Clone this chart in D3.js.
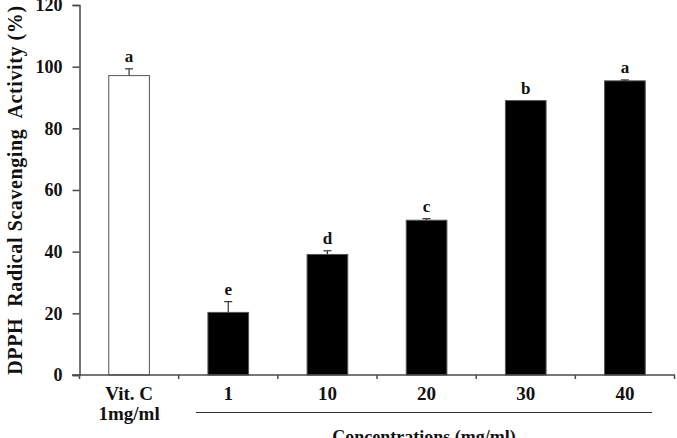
<!DOCTYPE html>
<html>
<head>
<meta charset="utf-8">
<script src="https://cdn.jsdelivr.net/npm/d3@7"></script>
<style>
  html, body { margin: 0; padding: 0; background: #fff; }
  svg { display: block; }
  text { font-family: "Liberation Serif", "DejaVu Serif", serif; font-weight: bold; fill: #111; }
</style>
</head>
<body>
<svg id="chart" width="677" height="438"></svg>
<script>
// ── data ──
const categories = ['Vit. C', '1', '10', '20', '30', '40'];
const values     = [97.1, 20.3, 39.1, 50.2, 89.0, 95.4];
const errors     = [2.2, 3.5, 1.2, 0.5, 0, 0.3];
const letters    = ['a', 'e', 'd', 'c', 'b', 'a'];
const yTicks     = [0, 20, 40, 60, 80, 100, 120];

const svg = d3.select('#chart');
const AXIS = '#4a4a4a';

const x = d3.scaleBand().domain(categories).range([79.5, 674.5]).paddingInner(0.59).paddingOuter(0.295);
const y = d3.scaleLinear().domain([0, 120]).range([375, 5]);

// bars — reference control white, extract black
svg.append('g').selectAll('rect').data(categories).join('rect')
  .attr('x', d => x(d))
  .attr('y', (d, i) => y(values[i]))
  .attr('width', x.bandwidth())
  .attr('height', (d, i) => y(0) - y(values[i]))
  .attr('fill', (d, i) => i === 0 ? '#fff' : '#000')
  .attr('stroke', '#555')
  .attr('stroke-width', 1);

// error bars (upper half only)
const eb = svg.append('g').attr('stroke', '#333').attr('stroke-width', 1.2);
categories.forEach((d, i) => {
  if (!errors[i]) return;
  const cx = x(d) + x.bandwidth() / 2;
  const top = y(values[i] + errors[i]);
  eb.append('line').attr('x1', cx).attr('x2', cx).attr('y1', y(values[i])).attr('y2', top);
  eb.append('line').attr('x1', cx - 4).attr('x2', cx + 4).attr('y1', top).attr('y2', top);
});

// significance letters
svg.append('g').selectAll('text').data(categories).join('text')
  .attr('x', d => x(d) + x.bandwidth() / 2)
  .attr('y', (d, i) => y(values[i] + errors[i]) - 7)
  .attr('text-anchor', 'middle')
  .style('font-size', '17px')
  .text((d, i) => letters[i]);

// y axis
const yAxis = svg.append('g')
  .attr('transform', 'translate(79.5,0)')
  .call(d3.axisLeft(y).tickValues(yTicks).tickSize(7).tickPadding(10));
yAxis.select('.domain').attr('stroke', AXIS).attr('stroke-width', 1.5);
yAxis.selectAll('.tick line').attr('stroke', AXIS).attr('stroke-width', 1.5);
yAxis.selectAll('.tick text')
  .style('font-size', '18px').style('fill', '#111');

// x axis — ticks at band boundaries
const step = x.step();
const bounds = categories.map(d => x(d) - (step - x.bandwidth()) / 2).concat([674.5]);
const xg = svg.append('g').attr('stroke', AXIS).attr('stroke-width', 1.5);
xg.append('line').attr('x1', 72).attr('x2', 675).attr('y1', y(0)).attr('y2', y(0));
bounds.forEach(b => {
  xg.append('line').attr('x1', b).attr('x2', b).attr('y1', y(0)).attr('y2', y(0) + 4);
});

// category labels
const lab = svg.append('g').attr('text-anchor', 'middle').style('font-size', '19px');
categories.forEach(d => {
  lab.append('text').attr('x', x(d) + x.bandwidth() / 2).attr('y', 400).text(d);
});
lab.append('text').attr('x', x('Vit. C') + x.bandwidth() / 2).attr('y', 420).text('1mg/ml');

// bracket line under concentrations
svg.append('line')
  .attr('x1', 196).attr('x2', 652).attr('y1', 412.5).attr('y2', 412.5)
  .attr('stroke', '#333').attr('stroke-width', 1.2);

svg.append('text')
  .attr('x', 424).attr('y', 443)
  .attr('text-anchor', 'middle').style('font-size', '18px')
  .text('Concentrations (mg/ml)');

// y title
svg.append('text')
  .attr('transform', 'translate(22,190) rotate(-90)')
  .attr('text-anchor', 'middle')
  .style('font-size', '20px')
  .style('letter-spacing', '0.6px')
  .style('white-space', 'pre')
  .text('DPPH  Radical Scavenging  Activity (%)');
</script>
</body>
</html>
